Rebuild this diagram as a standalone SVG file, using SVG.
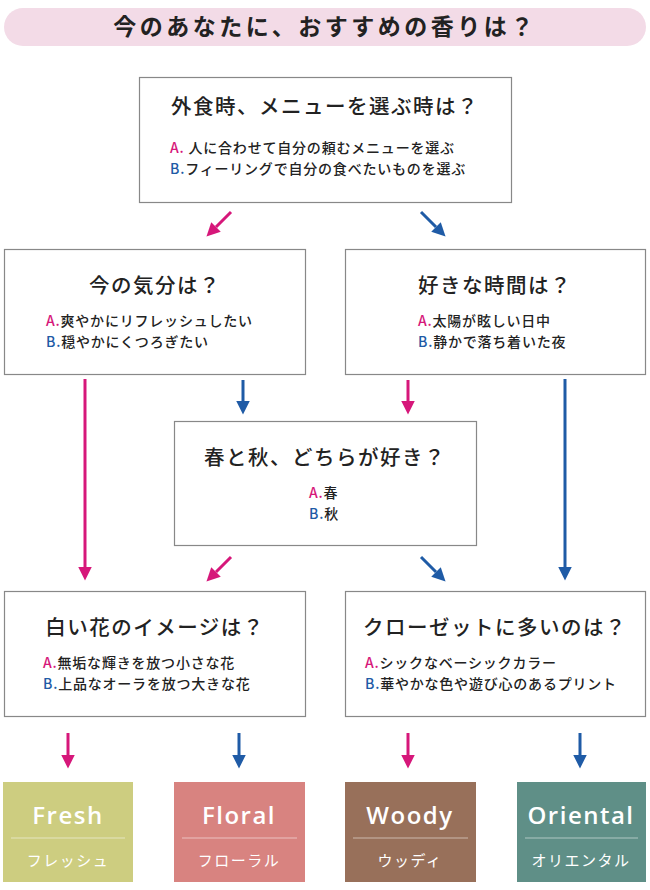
<svg xmlns="http://www.w3.org/2000/svg" width="650" height="890" viewBox="0 0 650 890">
<style>
text{font-family:"Noto Sans CJK JP","Noto Sans",sans-serif;}
.box{fill:#fff;stroke:#888;stroke-width:1.2}
.q{font-size:20.5px;fill:#222;text-anchor:middle;font-weight:500;letter-spacing:1.5px}
.o{font-size:14px;fill:#222;font-weight:500;letter-spacing:0.8px}
.a{fill:#d6177a}.b{fill:#1f5ba6}
.pk{stroke:#d6177a;stroke-width:3;fill:none}
.bl{stroke:#1f5ba6;stroke-width:3;fill:none}
.rn{font-family:"Open Sans","Noto Sans",sans-serif;font-size:24px;font-weight:600;fill:#fff;text-anchor:middle;letter-spacing:1.5px}
.rj{font-size:15px;fill:#fff;text-anchor:middle;letter-spacing:1.5px}
.sep{stroke:#fff;stroke-opacity:0.5;stroke-width:1}
</style>
<defs>
<marker id="mp" viewBox="0 0 10 10" refX="0" refY="5" markerWidth="4.5" markerHeight="4.5" orient="auto" markerUnits="strokeWidth"><path d="M0,0L10,5L0,10z" fill="#d6177a"/></marker>
<marker id="mb" viewBox="0 0 10 10" refX="0" refY="5" markerWidth="4.5" markerHeight="4.5" orient="auto" markerUnits="strokeWidth"><path d="M0,0L10,5L0,10z" fill="#1f5ba6"/></marker>
</defs>
<g id="title">
<rect x="4" y="8" width="642" height="38" rx="19" fill="#f3dbe7"/>
<text x="325" y="35" font-size="23" font-weight="700" fill="#222" text-anchor="middle" letter-spacing="3.5">今のあなたに、おすすめの香りは？</text>
</g>
<g id="connectors">
<line class="pk" x1="231" y1="212" x2="216" y2="227" marker-end="url(#mp)"/>
<line class="bl" x1="421" y1="212" x2="436" y2="227" marker-end="url(#mb)"/>
<line class="pk" x1="85" y1="379" x2="85" y2="567" marker-end="url(#mp)"/>
<line class="bl" x1="243" y1="380" x2="243" y2="401" marker-end="url(#mb)"/>
<line class="pk" x1="408" y1="380" x2="408" y2="401" marker-end="url(#mp)"/>
<line class="bl" x1="565" y1="379" x2="565" y2="567" marker-end="url(#mb)"/>
<line class="pk" x1="231" y1="557" x2="216" y2="572" marker-end="url(#mp)"/>
<line class="bl" x1="421" y1="557" x2="436" y2="572" marker-end="url(#mb)"/>
<line class="pk" x1="68" y1="733" x2="68" y2="755" marker-end="url(#mp)"/>
<line class="bl" x1="239" y1="733" x2="239" y2="755" marker-end="url(#mb)"/>
<line class="pk" x1="408" y1="733" x2="408" y2="755" marker-end="url(#mp)"/>
<line class="bl" x1="580" y1="733" x2="580" y2="755" marker-end="url(#mb)"/>
</g>
<g id="q1">
<rect class="box" x="139.5" y="77.5" width="372" height="125"/>
<text class="q" x="325" y="114">外食時、メニューを選ぶ時は？</text>
<text class="o" x="170" y="153"><tspan class="a">A.</tspan> 人に合わせて自分の頼むメニューを選ぶ</text>
<text class="o" x="170" y="174"><tspan class="b">B.</tspan>フィーリングで自分の食べたいものを選ぶ</text>
</g>
<g id="q2">
<rect class="box" x="4.5" y="249.5" width="301" height="125"/>
<text class="q" x="155" y="293">今の気分は？</text>
<text class="o" x="46" y="326"><tspan class="a">A.</tspan>爽やかにリフレッシュしたい</text>
<text class="o" x="46" y="347"><tspan class="b">B.</tspan>穏やかにくつろぎたい</text>
</g>
<g id="q3">
<rect class="box" x="345.5" y="249.5" width="300" height="125"/>
<text class="q" x="495" y="293">好きな時間は？</text>
<text class="o" x="418" y="326"><tspan class="a">A.</tspan>太陽が眩しい日中</text>
<text class="o" x="418" y="347"><tspan class="b">B.</tspan>静かで落ち着いた夜</text>
</g>
<g id="q4">
<rect class="box" x="174.5" y="421.5" width="302" height="124"/>
<text class="q" x="325" y="465">春と秋、どちらが好き？</text>
<text class="o" x="309" y="498"><tspan class="a">A.</tspan>春</text>
<text class="o" x="309" y="519"><tspan class="b">B.</tspan>秋</text>
</g>
<g id="q5">
<rect class="box" x="4.5" y="591.5" width="301" height="125"/>
<text class="q" x="155" y="635">白い花のイメージは？</text>
<text class="o" x="43" y="668"><tspan class="a">A.</tspan>無垢な輝きを放つ小さな花</text>
<text class="o" x="43" y="689"><tspan class="b">B.</tspan>上品なオーラを放つ大きな花</text>
</g>
<g id="q6">
<rect class="box" x="345.5" y="591.5" width="300" height="125"/>
<text class="q" x="495" y="635">クローゼットに多いのは？</text>
<text class="o" x="365" y="668"><tspan class="a">A.</tspan>シックなベーシックカラー</text>
<text class="o" x="365" y="689"><tspan class="b">B.</tspan>華やかな色や遊び心のあるプリント</text>
</g>
<g id="fresh">
<rect x="3" y="782" width="130" height="100" fill="#cdcd80"/>
<text class="rn" x="68" y="824">Fresh</text>
<line class="sep" x1="11" y1="838" x2="125" y2="838"/>
<text class="rj" x="68" y="866">フレッシュ</text>
</g>
<g id="floral">
<rect x="174" y="782" width="131" height="100" fill="#d88380"/>
<text class="rn" x="239" y="824">Floral</text>
<line class="sep" x1="182" y1="838" x2="297" y2="838"/>
<text class="rj" x="239" y="866">フローラル</text>
</g>
<g id="woody">
<rect x="345" y="782" width="131" height="100" fill="#98705a"/>
<text class="rn" x="410" y="824">Woody</text>
<line class="sep" x1="353" y1="838" x2="468" y2="838"/>
<text class="rj" x="410" y="866">ウッディ</text>
</g>
<g id="oriental">
<rect x="517" y="782" width="129" height="100" fill="#5f8f87"/>
<text class="rn" x="581" y="824">Oriental</text>
<line class="sep" x1="525" y1="838" x2="638" y2="838"/>
<text class="rj" x="581" y="866">オリエンタル</text>
</g>
</svg>
